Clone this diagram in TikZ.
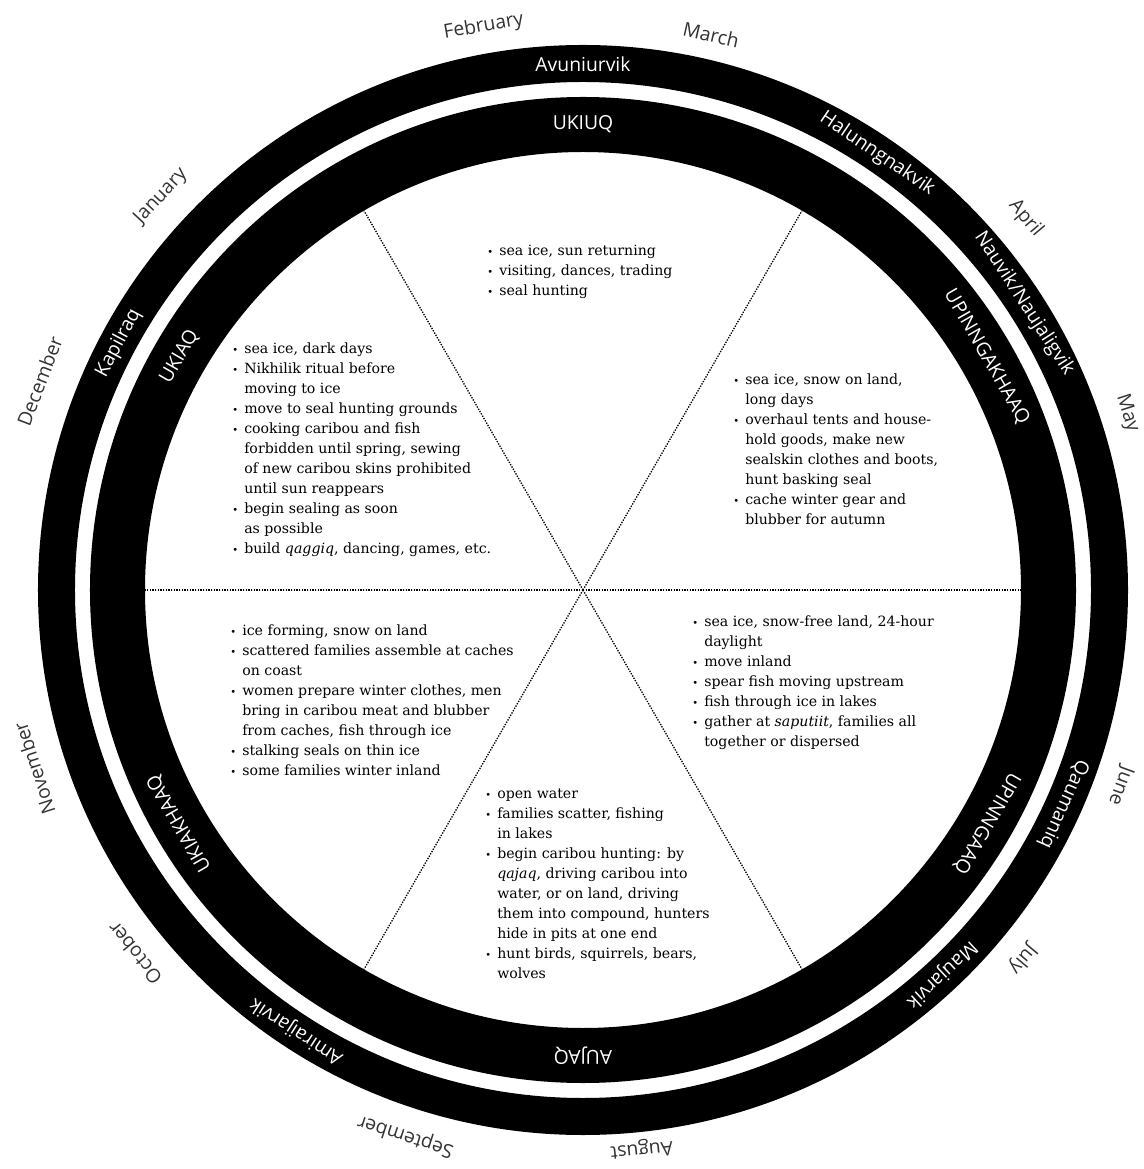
\documentclass[tikz,border=0pt]{standalone}
\usepackage{fontspec}
\setmainfont{DejaVu Serif}
\newfontfamily\ringfont{Open Sans}
\newcommand{\bul}{\makebox[9pt][l]{\scalebox{0.7}{\textbullet}}}
\newcommand{\ind}{\hspace*{9pt}}

\begin{document}
\begin{tikzpicture}[x=0.75pt, y=0.75pt,
    ring/.style = {fill=black, even odd rule},
    spoke/.style = {densely dotted, line width=1pt},
    month/.style = {font=\ringfont\fontsize{14.5}{16}\selectfont, text=black!80, inner sep=0pt},
    outername/.style = {font=\ringfont\fontsize{14.5}{16}\selectfont, text=white, inner sep=0pt},
    season/.style = {font=\ringfont\fontsize{14.5}{16}\selectfont, text=white, inner sep=0pt},
    sectortext/.style = {anchor=north west, align=left, inner sep=0pt,
        font=\fontsize{10.6}{15}\selectfont}]
        \useasboundingbox (-583,-579) rectangle (560,590);
        \coordinate (c) at (0,0);
        % the two black rings
        \fill[ring] (c) circle[radius=545] circle[radius=508];
        \fill[ring] (c) circle[radius=493] circle[radius=438];
        % dotted spokes between the seasons
        \coordinate (s0)   at (0:438);
        \coordinate (s60)  at (60:438);
        \coordinate (s120) at (120:438);
        \coordinate (s180) at (180:438);
        \coordinate (s240) at (240:438);
        \coordinate (s300) at (300:438);
        \draw[spoke] (c) -- (s0);
        \draw[spoke] (c) -- (s60);
        \draw[spoke] (c) -- (s120);
        \draw[spoke] (c) -- (s180);
        \draw[spoke] (c) -- (s240);
        \draw[spoke] (c) -- (s300);
        % Inuit month names, outer ring
        \node[outername, rotate=0]    (avuniurvik)    at (90:526)  {Avuniurvik};
        \node[outername, rotate=-34]  (halunngnakvik) at (56:526)  {Halunngnakvik};
        \node[outername, rotate=-57]  (nauvik)        at (33:526)  {Nauvik/Naujaligvik};
        \node[outername, rotate=-114] (qaumaniq)      at (-24:526) {Qaumaniq};
        \node[outername, rotate=-137] (maujarvik)     at (-47:526) {Maujarvik};
        \node[outername, rotate=147]  (amiraijarvik)  at (237:526) {Amiraijarvik};
        \node[outername, rotate=62]   (kapilraq)      at (152:526) {Kapilraq};
        % seasons, inner ring
        \node[season, rotate=0]    (ukiuqname)        at (90:466)  {UKIUQ};
        \node[season, rotate=-60]  (upinngakhaaqname) at (30:466)  {UPINNGAKHAAQ};
        \node[season, rotate=-120] (upinngaaqname)    at (-30:466) {UPINNGAAQ};
        \node[season, rotate=180]  (aujaqname)        at (270:466) {AUJAQ};
        \node[season, rotate=120]  (ukiakhaaqname)    at (210:466) {UKIAKHAAQ};
        \node[season, rotate=60]   (ukiaqname)        at (150:466) {UKIAQ};
        % calendar months, outside
        \node[month, rotate=10]   (feb) at (100:572) {February};
        \node[month, rotate=-13]  (mar) at (77:570)  {March};
        \node[month, rotate=-50]  (apr) at (40:578)  {April};
        \node[month, rotate=-72]  (may) at (18:572)  {May};
        \node[month, rotate=-110] (jun) at (-20:572) {June};
        \node[month, rotate=-130] (jul) at (-40:574) {July};
        \node[month, rotate=-174] (aug) at (-84:562) {August};
        \node[month, rotate=162]  (sep) at (252:574) {September};
        \node[month, rotate=129]  (oct) at (219:577) {October};
        \node[month, rotate=108]  (nov) at (198:577) {November};
        \node[month, rotate=69]   (dec) at (159:582) {December};
        \node[month, rotate=47]   (jan) at (137:577) {January};
        % activities of each season
        \node[sectortext] (ukiuq) at (-96,345) {\bul sea ice, sun returning\\
            \bul visiting, dances, trading\\
            \bul seal hunting};
        \node[sectortext] (ukiaq) at (-351,248) {\bul sea ice, dark days\\
            \bul Nikhilik ritual before\\
            \ind moving to ice\\
            \bul move to seal hunting grounds\\
            \bul cooking caribou and fish\\
            \ind forbidden until spring, sewing\\
            \ind of new caribou skins prohibited\\
            \ind until sun reappears\\
            \bul begin sealing as soon\\
            \ind as possible\\
            \bul build \textit{qaggiq}, dancing, games, etc.};
        \node[sectortext] (upinngakhaaq) at (150,217) {\bul sea ice, snow on land,\\
            \ind long days\\
            \bul overhaul tents and house-\\
            \ind hold goods, make new\\
            \ind sealskin clothes and boots,\\
            \ind hunt basking seal\\
            \bul cache winter gear and\\
            \ind blubber for autumn};
        \node[sectortext] (ukiakhaaq) at (-353,-34) {\bul ice forming, snow on land\\
            \bul scattered families assemble at caches\\
            \ind on coast\\
            \bul women prepare winter clothes, men\\
            \ind bring in caribou meat and blubber\\
            \ind from caches, fish through ice\\
            \bul stalking seals on thin ice\\
            \bul some families winter inland};
        \node[sectortext] (upinngaaq) at (109,-25) {\bul sea ice, snow-free land, 24-hour\\
            \ind daylight\\
            \bul move inland\\
            \bul spear fish moving upstream\\
            \bul fish through ice in lakes\\
            \bul gather at \textit{saputiit}, families all\\
            \ind together or dispersed};
        \node[sectortext] (aujaq) at (-98,-199) {\bul open water\\
            \bul families scatter, fishing\\
            \ind in lakes\\
            \bul begin caribou hunting: by\\
            \ind \textit{qajaq}, driving caribou into\\
            \ind water, or on land, driving\\
            \ind them into compound, hunters\\
            \ind hide in pits at one end\\
            \bul hunt birds, squirrels, bears,\\
            \ind wolves};
\end{tikzpicture}
\end{document}
